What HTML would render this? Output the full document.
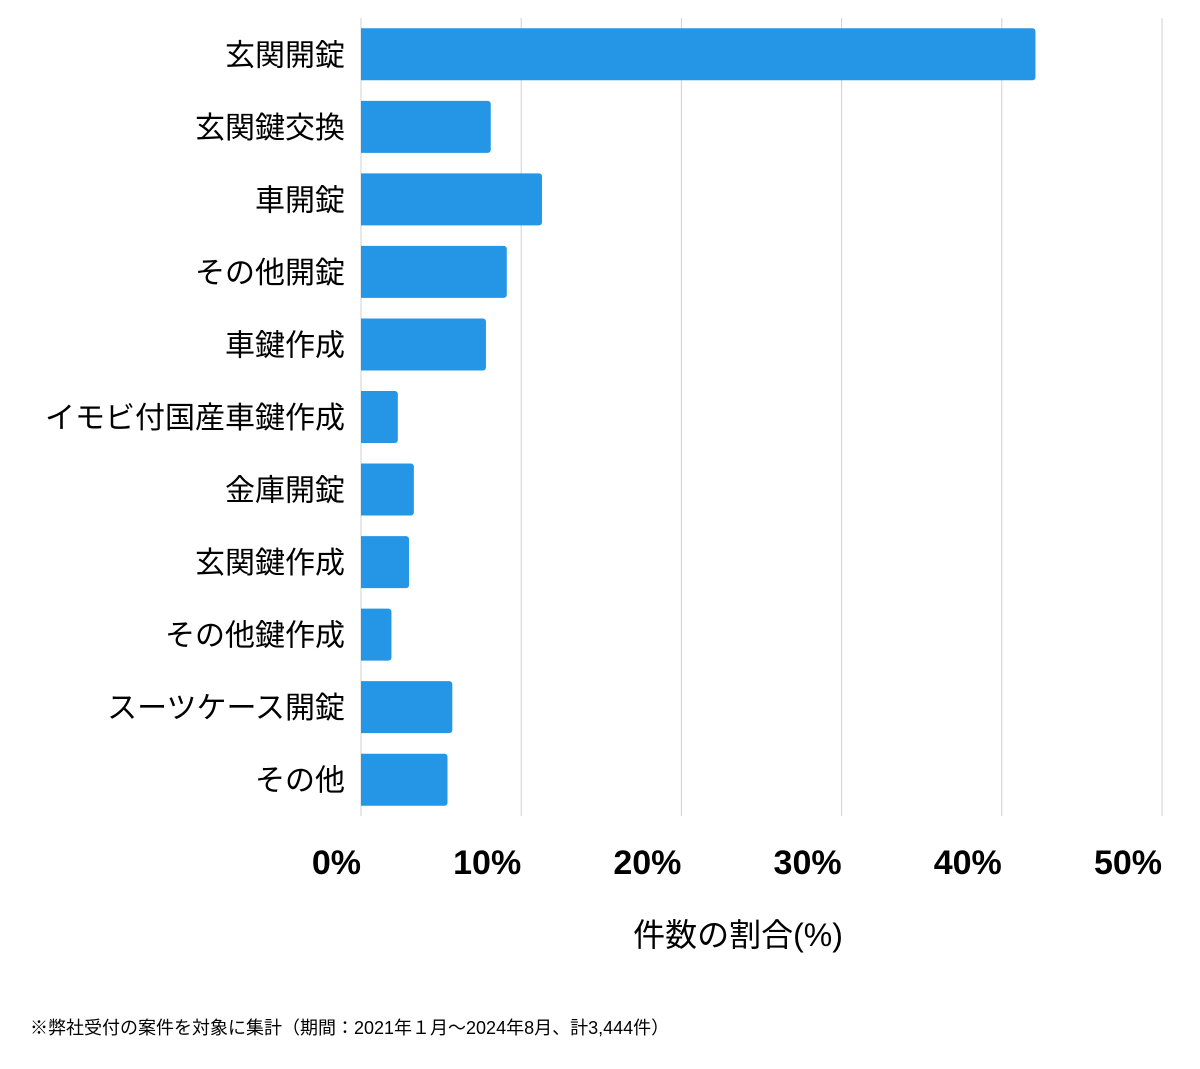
<!DOCTYPE html>
<html><head><meta charset="utf-8"><style>
body{margin:0;background:#fff;width:1200px;height:1069px;overflow:hidden}
svg{display:block}
text{font-family:"Liberation Sans","Noto Sans CJK JP",sans-serif;fill:#000}
</style></head><body>
<svg id="chart" width="1200" height="1069" xmlns="http://www.w3.org/2000/svg">
<g id="grid"></g>
<g id="bars"></g>
<g id="cats"></g>
<g id="ticks"></g>
<text x="738" y="946" font-size="32" text-anchor="middle">件数の割合(%)</text>
<text x="30" y="1034" font-size="18">※弊社受付の案件を対象に集計（期間：2021年１月〜2024年8月、計3,444件）</text>
</svg>
<script>
const categories=["玄関開錠","玄関鍵交換","車開錠","その他開錠","車鍵作成","イモビ付国産車鍵作成","金庫開錠","玄関鍵作成","その他鍵作成","スーツケース開錠","その他"];
const values=[42.1,8.1,11.3,9.1,7.8,2.3,3.3,3.0,1.9,5.7,5.4];
const tickValues=[0,10,20,30,40,50];
const tickLabels=["0%","10%","20%","30%","40%","50%"];
const NS="http://www.w3.org/2000/svg";
const x0=361,x1=1162,xMax=50,yTop=18,yBottom=816;
const xs=v=>x0+(x1-x0)*v/xMax;
const band=(yBottom-yTop)/categories.length;
function mk(t,a,p){const e=document.createElementNS(NS,t);for(const k in a)e.setAttribute(k,a[k]);p.appendChild(e);return e;}
const g=document.getElementById('grid'),b=document.getElementById('bars'),c=document.getElementById('cats'),t=document.getElementById('ticks');
tickValues.forEach((v,i)=>{
 const l=mk('line',{x1:xs(v),x2:xs(v),y1:yTop,y2:yBottom,stroke:'#d0d0d0','stroke-width':1},g);
 
 
 const tx=mk('text',{x:xs(v),y:874,'font-size':34,'font-weight':'bold','text-anchor':'end'},t);
 tx.textContent=tickLabels[i];
 
 
});
categories.forEach((cat,i)=>{
 const y=yTop+band*i+(band-52)/2;
 const w=xs(values[i])-x0;
 const p=mk('path',{d:`M${x0},${y}h${w-3}a3,3 0 0 1 3,3v46a3,3 0 0 1 -3,3h${-(w-3)}z`,fill:'#2596e6'},b);
 
 
 const tx=mk('text',{x:345,y:y+37,'font-size':30,'text-anchor':'end'},c);
 tx.textContent=cat;
 
 
});
</script>
</body></html>
